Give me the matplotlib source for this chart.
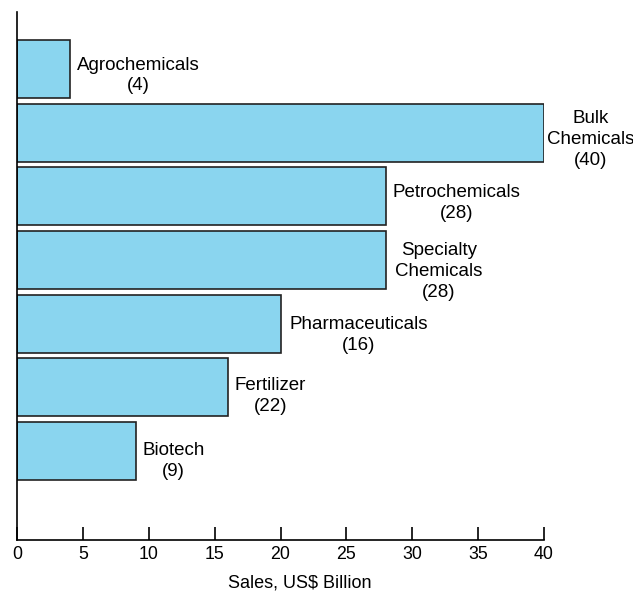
import matplotlib.pyplot as plt

plt.rcParams['font.family'] = ['Liberation Sans', 'DejaVu Sans']

# sectors, top to bottom
sectors = ['Agrochemicals', 'Bulk\nChemicals', 'Petrochemicals', 'Specialty\nChemicals',
           'Pharmaceuticals', 'Fertilizer', 'Biotech']
bar_values = [4, 40, 28, 28, 20, 16, 9]
label_numbers = ['(4)', '(40)', '(28)', '(28)', '(16)', '(22)', '(9)']
x_ticks = [0, 5, 10, 15, 20, 25, 30, 35, 40]

# label nudges in points (x, y), as placed in the original figure
nudges = [(5, -4.7), (2, -4.7), (5, -4.7), (6.5, -8.6), (6.5, -8), (5, -6.5), (5, -7.2)]

fig = plt.figure(figsize=(6.33, 5.94), dpi=100)
ax = fig.add_axes([17 / 633, 1 - 540 / 594, (544 - 17) / 633, (540 - 12) / 594])

pos = list(range(len(sectors)))
ax.barh(pos, bar_values, height=0.91, color='#8AD5EF', edgecolor='#222222', linewidth=1.2)

for i, (name, num, v) in enumerate(zip(sectors, label_numbers, bar_values)):
    ax.annotate(name + '\n' + num, xy=(v, i), xytext=nudges[i], textcoords='offset points',
                ha='left', va='center', multialignment='center',
                fontsize=13.5, linespacing=1.3, annotation_clip=False)

ax.set_xlim(0, 40)
ax.set_ylim(7.40, -0.895)
ax.set_xticks(x_ticks)
ax.set_yticks([])
ax.tick_params(axis='x', direction='in', length=9.4, width=1.2, labelsize=12.8, pad=4)
for s in ['top', 'right']:
    ax.spines[s].set_visible(False)
for s in ['left', 'bottom']:
    ax.spines[s].set_linewidth(1.2)

fig.text(300 / 633, 1 - 583 / 594, 'Sales, US$ Billion', ha='center', va='center', fontsize=13)

fig.savefig('out.png', dpi=100)
